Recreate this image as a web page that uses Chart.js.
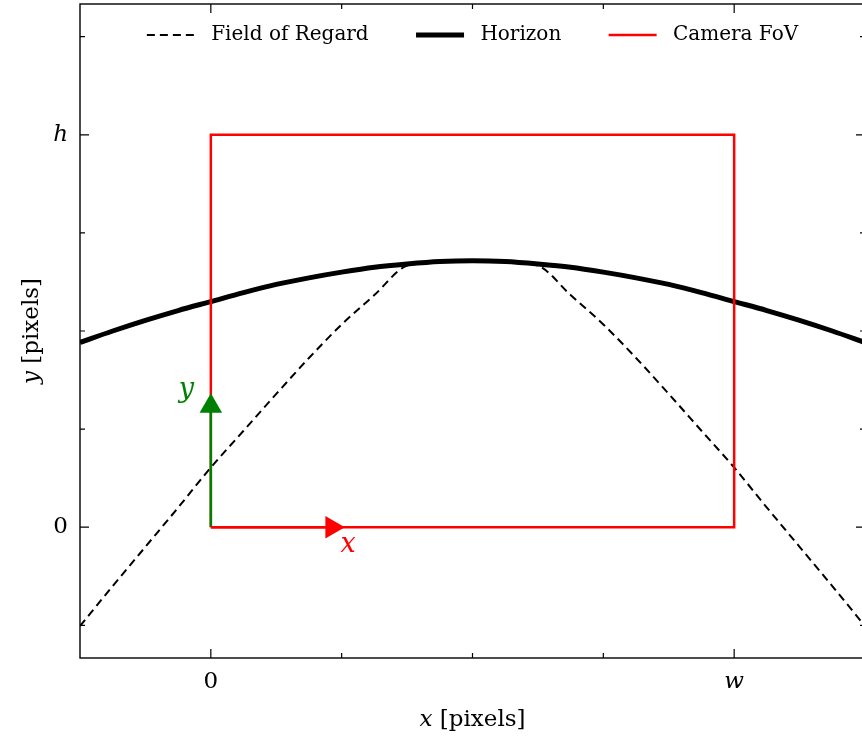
<!DOCTYPE html>
<html>
<head>
<meta charset="utf-8">
<script src="https://cdn.jsdelivr.net/npm/chart.js@4.4.1/dist/chart.umd.min.js"></script>
<style>
  html, body { margin: 0; padding: 0; background: #fff; overflow: hidden; }
  canvas { display: block; }
</style>
</head>
<body>
<canvas id="fov" width="870" height="740"></canvas>
<script>
// ── Data (image is w x h = 640 x 480 px) ─────────────────
const X_SAMPLES = [-160, -120, -80, -40, 0, 40, 80, 120, 160, 200, 240, 280, 320,
                   360, 400, 440, 480, 520, 560, 600, 640, 680, 720, 760, 800];
const FOR_Y     = [-121, -72, -24, 24, 73, 118, 163, 207, 248, 284, 320, 325, 326,
                   325, 320, 284, 248, 207, 163, 118, 73, 24, -24, -72, -121];
const HORIZON_Y = [226, 240, 253, 265, 276, 287, 297, 305, 312, 318, 322, 325, 326,
                   325, 322, 318, 312, 305, 297, 287, 276, 265, 253, 240, 226];
const CAM_X     = [0, 640, 640, 0, 0];
const CAM_Y     = [0, 0, 480, 480, 0];
const ARROW_LEN = [0, 148];

const X_TICKS = [0, 640];
const X_TICK_LABELS = ['0', 'w'];
const Y_TICKS = [0, 480];
const Y_TICK_LABELS = ['0', 'h'];
const X_MINOR = [160, 320, 480];
const Y_MINOR = [-120, 120, 240, 360, 600];

const SERIF = '"DejaVu Serif", serif';
const LEGEND_H = 51;   // what Chart.js reserves for one legend row (20 + 21 + 10)
const pts = (xs, ys) => xs.map((x, i) => ({ x, y: ys[i] }));

// legend sits inside the plot, centred over the axes
const legendInside = {
  id: 'legendInside',
  afterLayout(chart) {
    const lg = chart.legend, a = chart.chartArea;
    lg.top = a.top; lg.bottom = a.top + LEGEND_H;
    lg.left = a.left; lg.right = a.right;
  }
};

// ── Frame, inward ticks, axis titles, axis glyphs ────────
const framePlugin = {
  id: 'frame',
  afterDatasetsDraw(chart) {
    const { ctx, chartArea: a, scales: { x, y } } = chart;
    ctx.save();
    ctx.strokeStyle = '#000';
    ctx.lineWidth = 1.4;
    ctx.strokeRect(a.left, a.top, a.right - a.left, a.bottom - a.top);
    const tick = (vals, len, horiz) => vals.forEach(v => {
      ctx.beginPath();
      if (horiz) {
        const px = x.getPixelForValue(v);
        ctx.moveTo(px, a.bottom); ctx.lineTo(px, a.bottom - len);
        ctx.moveTo(px, a.top);    ctx.lineTo(px, a.top + len);
      } else {
        const py = y.getPixelForValue(v);
        ctx.moveTo(a.left, py);  ctx.lineTo(a.left + len, py);
        ctx.moveTo(a.right, py); ctx.lineTo(a.right - len, py);
      }
      ctx.stroke();
    });
    ctx.lineWidth = 1.2;
    tick(X_TICKS, 9, true);  tick(X_MINOR, 5, true);
    tick(Y_TICKS, 9, false); tick(Y_MINOR, 5, false);

    // camera axis names
    ctx.textAlign = 'center'; ctx.textBaseline = 'middle';
    ctx.font = `italic 27px ${SERIF}`;
    ctx.fillStyle = '#008000';
    ctx.fillText('y', x.getPixelForValue(-30), y.getPixelForValue(168));
    ctx.fillStyle = '#ff0000';
    ctx.fillText('x', x.getPixelForValue(168), y.getPixelForValue(-22));

    // axis titles (italic symbol + upright unit)
    const mixed = (sym, rest, cx, cy, rot) => {
      ctx.save();
      ctx.translate(cx, cy); ctx.rotate(rot);
      ctx.fillStyle = '#000'; ctx.textAlign = 'left'; ctx.textBaseline = 'middle';
      ctx.font = `italic 23px ${SERIF}`; const w1 = ctx.measureText(sym).width;
      ctx.font = `23px ${SERIF}`;        const w2 = ctx.measureText(rest).width;
      const x0 = -(w1 + w2) / 2;
      ctx.font = `italic 23px ${SERIF}`; ctx.fillText(sym, x0, 0);
      ctx.font = `23px ${SERIF}`;        ctx.fillText(rest, x0 + w1, 0);
      ctx.restore();
    };
    mixed('x', ' [pixels]', (a.left + a.right) / 2, 720, 0);
    mixed('y', ' [pixels]', 32, (a.top + a.bottom) / 2, -Math.PI / 2);
    ctx.restore();
  }
};

Chart.defaults.color = '#000';
Chart.defaults.font.family = SERIF;

const noPad = s => { s.paddingTop = s.paddingBottom = s.paddingLeft = s.paddingRight = 0; };

// Chart.js paints high `order` first, so the arrows end up on top
new Chart(document.getElementById('fov'), {
  type: 'scatter',
  data: {
    datasets: [
      { label: 'Field of Regard', data: pts(X_SAMPLES, FOR_Y), showLine: true, order: 5,
        borderColor: '#000', borderWidth: 2, borderDash: [8, 5], pointRadius: 0,
        cubicInterpolationMode: 'monotone' },
      { label: 'Horizon', data: pts(X_SAMPLES, HORIZON_Y), showLine: true, order: 4,
        borderColor: '#000', borderWidth: 5, pointRadius: 0,
        cubicInterpolationMode: 'monotone' },
      { label: 'Camera FoV', data: pts(CAM_X, CAM_Y), showLine: true, order: 3,
        borderColor: '#ff0000', borderWidth: 2.5, pointRadius: 0, borderJoinStyle: 'miter' },
      { label: 'y-arrow', data: pts([0, 0], ARROW_LEN), showLine: true, order: 2,
        borderColor: '#008000', backgroundColor: '#008000', borderWidth: 2.5,
        pointStyle: 'triangle', pointRadius: [0, 13], pointBorderWidth: 0, rotation: 0 },
      { label: 'x-arrow', data: pts(ARROW_LEN, [0, 0]), showLine: true, order: 1,
        borderColor: '#ff0000', backgroundColor: '#ff0000', borderWidth: 2.5,
        pointStyle: 'triangle', pointRadius: [0, 13], pointBorderWidth: 0, rotation: 90 },
    ],
  },
  options: {
    responsive: false, animation: false,
    layout: { autoPadding: false, padding: { top: 4 - LEGEND_H, right: 5, left: 0, bottom: 0 } },
    plugins: {
      tooltip: { enabled: false },
      legend: {
        position: 'top',
        labels: {
          usePointStyle: true, pointStyle: 'line', pointStyleWidth: 48, padding: 21,
          font: { size: 20, family: SERIF }, color: '#000',
          filter: item => item.datasetIndex < 3,
          sort: (a, b) => a.datasetIndex - b.datasetIndex,
          generateLabels: chart => Chart.defaults.plugins.legend.labels.generateLabels(chart)
            .map(l => {
              const ds = chart.data.datasets[l.datasetIndex];
              return { ...l, lineDash: ds.borderDash || [], lineWidth: ds.borderWidth,
                       text: ' ' + l.text + (l.datasetIndex < 2 ? '\u2003 ' : '') };
            }),
        },
      },
    },
    scales: {
      x: {
        type: 'linear', min: -160, max: 800,
        grid: { display: false, drawTicks: false }, border: { display: false },
        afterBuildTicks: s => { s.ticks = X_TICKS.map(v => ({ value: v })); },
        afterFit: s => { s.height = 82; noPad(s); },
        ticks: {
          padding: 10, maxRotation: 0,
          callback: v => X_TICK_LABELS[X_TICKS.indexOf(v)],
          font: c => ({ size: 23, family: SERIF, style: c.tick && c.tick.value ? 'italic' : 'normal' }),
        },
      },
      y: {
        type: 'linear', min: -160, max: 640,
        grid: { display: false, drawTicks: false }, border: { display: false },
        afterBuildTicks: s => { s.ticks = Y_TICKS.map(v => ({ value: v })); },
        afterFit: s => { s.width = 80; noPad(s); },
        ticks: {
          padding: 12,
          callback: v => Y_TICK_LABELS[Y_TICKS.indexOf(v)],
          font: c => ({ size: 23, family: SERIF, style: c.tick && c.tick.value ? 'italic' : 'normal' }),
        },
      },
    },
  },
  plugins: [legendInside, framePlugin],
});
</script>
</body>
</html>
